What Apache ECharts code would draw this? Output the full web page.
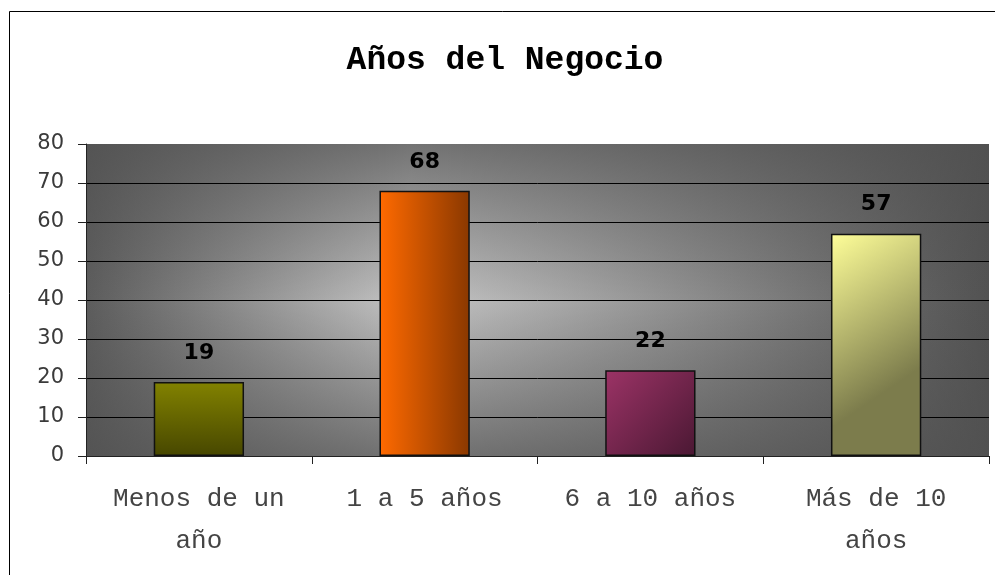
<!DOCTYPE html>
<html>
<head>
<meta charset="utf-8">
<script src="https://cdn.jsdelivr.net/npm/echarts@6/dist/echarts.min.js"></script>
<style>
html,body{margin:0;padding:0;background:#fff;}
#c{width:995px;height:575px;}
</style>
</head>
<body>
<div id="c"></div>
<script>
const titleText = 'Años del Negocio';
const categories = ['Menos de un\naño', '1 a 5 años', '6 a 10 años', 'Más de 10\naños'];
const values = [19, 68, 22, 57];
const yTicks = [0, 10, 20, 30, 40, 50, 60, 70, 80];

const G = {left: 86, top: 144, right: 6, bottom: 119};
const W = 995, H = 575;
const gw = W - G.left - G.right, gh = H - G.top - G.bottom;

const barFills = [
  {type:'linear', x:0, y:0, x2:0, y2:1, colorStops:[{offset:0,color:'#828200'},{offset:1,color:'#474700'}]},
  {type:'linear', x:0, y:0, x2:1, y2:0, colorStops:[{offset:0,color:'#ff6a00'},{offset:1,color:'#8a3800'}]},
  {type:'linear', x:0, y:0, x2:1, y2:1, colorStops:[{offset:0,color:'#9c3366'},{offset:1,color:'#4a1833'}]},
  {type:'linear', x:0, y:0, x2:1, y2:0.6, colorStops:[{offset:0,color:'#ffff99'},{offset:1,color:'#7c7c4c'}]}
];

const chart = echarts.init(document.getElementById('c'), null, {renderer:'canvas'});
chart.setOption({
  animation: false,
  backgroundColor: '#fff',
  title: {
    text: titleText,
    left: 500, top: 39, textAlign: 'center',
    textStyle: {fontFamily: 'Liberation Mono', fontWeight: 'bold', fontSize: 33, color: '#000'}
  },
  graphic: [
    {type:'rect', z:-20, silent:true, shape:{x:9.5, y:11.5, width:1000, height:600}, style:{fill:'#fff', stroke:'#000', lineWidth:1}},
    {type:'rect', z:-10, silent:true, shape:{x:G.left, y:G.top, width:gw, height:gh},
      style:{fill:{type:'linear', x:0, y:0, x2:1, y2:0, colorStops:[
        {offset:0,color:'#5c5c5c'},{offset:0.36,color:'#c6c6c6'},{offset:1,color:'#525252'}]}}},
    {type:'rect', z:-9, silent:true, shape:{x:G.left, y:G.top, width:gw, height:gh},
      style:{fill:{type:'linear', x:0, y:0, x2:0, y2:1, colorStops:[
        {offset:0,color:'rgba(80,80,80,0.7)'},{offset:0.5,color:'rgba(80,80,80,0)'},{offset:1,color:'rgba(80,80,80,0.7)'}]}}}
  ],
  grid: {left: G.left, top: G.top, right: G.right, bottom: G.bottom, containLabel: false},
  xAxis: {
    type: 'category',
    data: categories,
    axisLine: {show: true, lineStyle: {color: '#222', width: 1}},
    axisTick: {show: true, length: 8, alignWithLabel: false, lineStyle: {color: '#222'}},
    axisLabel: {interval: 0, margin: 22, fontFamily: 'Liberation Mono', fontSize: 26, lineHeight: 42, color: '#444', align: 'center'},
    splitLine: {show: false}
  },
  yAxis: {
    type: 'value', min: yTicks[0], max: yTicks[yTicks.length-1], interval: 10,
    axisLine: {show: true, lineStyle: {color: '#222', width: 1}},
    axisTick: {show: true, length: 8, lineStyle: {color: '#222'}},
    axisLabel: {margin: 22, fontFamily: 'DejaVu Sans', fontSize: 21, color: '#3a3a3a'},
    splitLine: {show: true, lineStyle: {color: ['#000','#000','#000','#000','#000','#000','#000','#000','rgba(0,0,0,0)'], width: 1}}
  },
  series: [{
    type: 'bar',
    barWidth: '40%',
    data: values.map((v, i) => ({value: v, itemStyle: {color: barFills[i]}})),
    itemStyle: {borderColor: '#111', borderWidth: 1.5},
    label: {show: true, position: 'top', distance: 18, fontFamily: 'DejaVu Sans', fontWeight: 'bold', fontSize: 22, color: '#000'}
  }]
});
</script>
</body>
</html>
